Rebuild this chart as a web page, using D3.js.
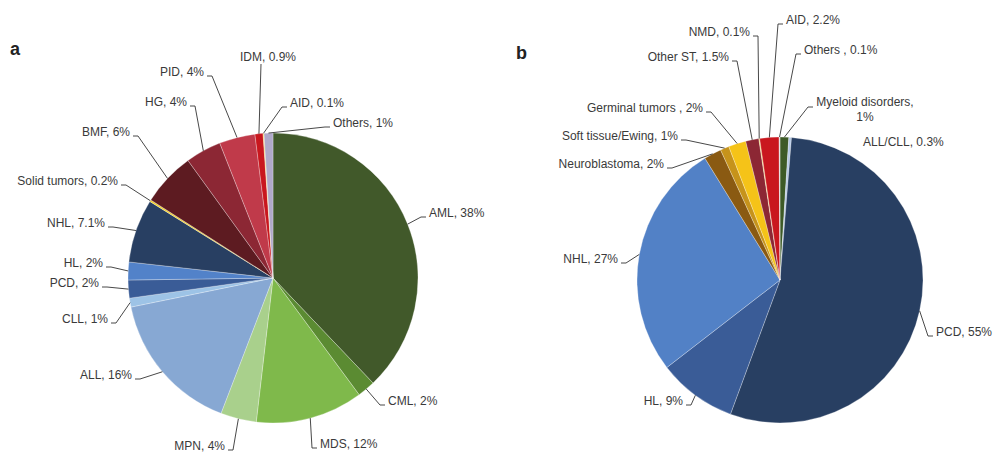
<!DOCTYPE html>
<html>
<head>
<meta charset="utf-8">
<script src="https://cdn.jsdelivr.net/npm/d3@7/dist/d3.min.js"></script>
<style>
  html, body { margin: 0; padding: 0; background: #fff; }
  svg { display: block; font-family: "Liberation Sans", Arial, sans-serif; }
  .lbl { font-size: 12px; fill: #3a3a3a; }
  .panel { font-size: 18px; font-weight: bold; fill: #222; }
  .leader { fill: none; stroke: #333; stroke-width: 0.9; }
</style>
</head>
<body>
<svg id="chart" width="993" height="452"></svg>
<script>
// Panel a: diagnoses, clockwise from 12 o'clock
const catsA = ["AML", "CML", "MDS", "MPN", "ALL", "CLL", "PCD", "HL", "NHL",
  "Solid tumors", "BMF", "HG", "PID", "IDM", "AID", "Others"];
const valsA = [38, 2, 12, 4, 16, 1, 2, 2, 7.1, 0.2, 6, 4, 4, 0.9, 0.1, 1];
const labelsA = ["AML, 38%", "CML, 2%", "MDS, 12%", "MPN, 4%", "ALL, 16%", "CLL, 1%",
  "PCD, 2%", "HL, 2%", "NHL, 7.1%", "Solid tumors, 0.2%", "BMF, 6%", "HG, 4%",
  "PID, 4%", "IDM, 0.9%", "AID, 0.1%", "Others, 1%"];
const colorsA = ["#41592a", "#5b8b32", "#7fb94b", "#a9d08c", "#87a8d3", "#9dc3e6",
  "#3a5c97", "#5282c9", "#283f62", "#f2d024", "#5d1b21", "#8c2734", "#c03a4a",
  "#c9171e", "#f3d34a", "#b0a9c9"];

// Panel b: diagnoses, clockwise from 12 o'clock
const catsB = ["Myeloid disorders", "ALL/CLL", "PCD", "HL", "NHL", "Neuroblastoma",
  "Soft tissue/Ewing", "Germinal tumors", "Other ST", "NMD", "AID", "Others"];
const valsB = [1, 0.3, 55, 9, 27, 2, 1, 2, 1.5, 0.1, 2.2, 0.1];
const labelsB = [["Myeloid disorders,", "1%"], ["ALL/CLL, 0.3%"], ["PCD, 55%"], ["HL, 9%"],
  ["NHL, 27%"], ["Neuroblastoma, 2%"], ["Soft tissue/Ewing, 1%"], ["Germinal tumors , 2%"],
  ["Other ST, 1.5%"], ["NMD, 0.1%"], ["AID, 2.2%"], ["Others , 0.1%"]];
const colorsB = ["#3d5a27", "#b4c8e6", "#283f62", "#3a5c97", "#5281c6", "#8a5a12",
  "#c6931b", "#f5c318", "#8c2734", "#f3d34a", "#c9171e", "#d9d9d9"];

// Label placement: text anchor point (x, middle y) and alignment
const placeA = [
  {x: 429, y: 213, a: "start"}, {x: 388, y: 401, a: "start"}, {x: 320, y: 444, a: "start"},
  {x: 225, y: 446, a: "end"}, {x: 132, y: 375, a: "end"}, {x: 108, y: 319, a: "end"},
  {x: 99, y: 283, a: "end"}, {x: 103, y: 263, a: "end"}, {x: 105, y: 223, a: "end"},
  {x: 118, y: 181, a: "end"}, {x: 130, y: 132, a: "end"}, {x: 187, y: 102, a: "end"},
  {x: 204, y: 72, a: "end"}, {x: 268, y: 57, a: "middle", end: [261, 64]},
  {x: 290, y: 103, a: "start"}, {x: 333, y: 123, a: "start"}
];
const placeB = [
  {x: 865, y: 102, a: "middle", end: [813, 107], elbow: [808, 107]},
  {x: 863, y: 142, a: "start", noLine: true},
  {x: 936, y: 332, a: "start"}, {x: 683, y: 401, a: "end"}, {x: 618, y: 259, a: "end"},
  {x: 664, y: 164, a: "end"}, {x: 678, y: 136, a: "end"}, {x: 703, y: 108, a: "end"},
  {x: 729, y: 57, a: "end"}, {x: 750, y: 32, a: "end"}, {x: 786, y: 20, a: "start"},
  {x: 804, y: 50, a: "start"}
];

const svg = d3.select("#chart");

svg.append("text").attr("class", "panel").attr("x", 10).attr("y", 55).text("a");
svg.append("text").attr("class", "panel").attr("x", 516).attr("y", 59).text("b");

function drawPie(cx, cy, r, cats, vals, labels, colors, place) {
  const g = svg.append("g");
  const pie = d3.pie().sort(null).value(d => d)(vals);
  const arc = d3.arc().innerRadius(0).outerRadius(r);
  const edge = d3.arc().innerRadius(r).outerRadius(r);

  g.selectAll("path.slice").data(pie).join("path")
    .attr("class", "slice")
    .attr("transform", `translate(${cx},${cy})`)
    .attr("d", arc)
    .attr("fill", (d, i) => colors[i])
    .attr("stroke", "#ffffff")
    .attr("stroke-opacity", 0.55)
    .attr("stroke-width", 0.5);

  pie.forEach((d, i) => {
    const p = place[i];
    const lines = Array.isArray(labels[i]) ? labels[i] : [labels[i]];
    const lineH = 15;
    const t = g.append("text").attr("class", "lbl")
      .attr("text-anchor", p.a)
      .attr("x", p.x).attr("y", p.y).attr("dy", "0.35em");
    lines.forEach((s, k) => {
      t.append("tspan").attr("x", p.x).attr("dy", k === 0 ? "0.35em" : lineH).text(s);
    });
    t.attr("dy", null);
    if (p.noLine) return;

    // leader from the slice's rim at its mid-angle to the label
    const mid = (d.startAngle + d.endAngle) / 2;
    const c = edge.centroid({startAngle: mid, endAngle: mid});
    const ax = cx + c[0], ay = cy + c[1];
    let pts;
    if (p.a === "middle" && !p.elbow) {
      pts = [[ax, ay], p.end];
    } else if (p.elbow) {
      pts = [[ax, ay], p.elbow, p.end];
    } else if (p.a === "end") {
      pts = [[ax, ay], [p.x + 8, p.y + 4], [p.x + 3, p.y + 4]];
    } else {
      pts = [[ax, ay], [p.x - 8, p.y + 4], [p.x - 3, p.y + 4]];
    }
    g.append("path").attr("class", "leader").attr("d", d3.line()(pts));
  });
}

drawPie(273, 278, 145, catsA, valsA, labelsA, colorsA, placeA);
drawPie(780, 280, 143, catsB, valsB, labelsB, colorsB, placeB);
</script>
</body>
</html>
